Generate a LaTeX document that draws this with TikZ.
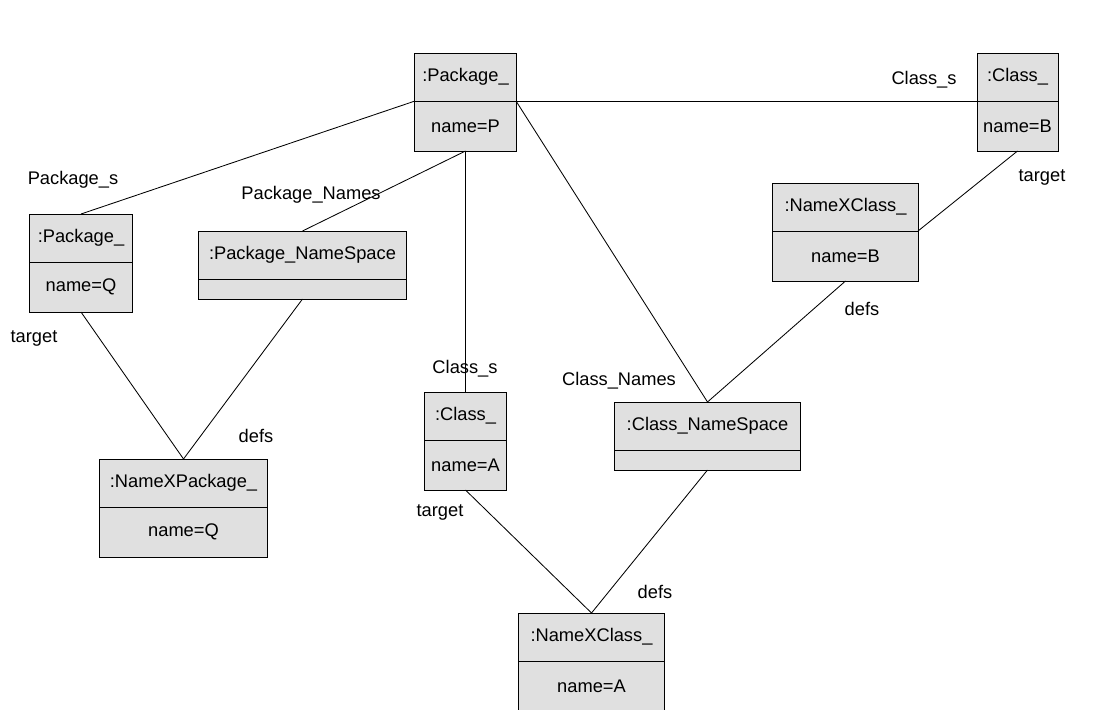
\documentclass[tikz,border=0pt]{standalone}
\usepackage{fontspec}
\setmainfont{Liberation Sans}
\usepackage{xcolor}
\usepackage{tikz}
\usetikzlibrary{positioning}
\definecolor{boxgray}{RGB}{224,224,224}
\newcommand\umlfont{\fontsize{13}{15}\selectfont}

\tikzset{
  objtitle/.style={draw=black, fill=boxgray, line width=0.7pt, minimum height=1.2cm,
                   inner sep=0pt, outer sep=0pt, font=\umlfont},
  objattr/.style={objtitle, minimum height=1.25cm},
  objempty/.style={objtitle, minimum height=0.5cm},
  link/.style={draw=black, line width=0.6pt},
  role/.style={font=\umlfont, inner sep=0pt}
}

\begin{document}
\begin{tikzpicture}[x=0.025cm, y=-0.025cm]
              \useasboundingbox (0,0) rectangle (1099,710);
              \fill[white] (0,0) rectangle (1099,710);
              % package P and class B
              \node[objtitle, minimum width=2.525cm] (pp) at (465.5,77) {:Package\_};
              \node[objattr, minimum width=2.525cm, below=0pt of pp] (pp-a) {name=P};
              \node[objtitle, minimum width=2.025cm] (cb) at (1017.5,77) {:Class\_};
              \node[objattr, minimum width=2.025cm, below=0pt of cb] (cb-a) {name=B};
              % left side
              \node[objtitle, minimum width=2.55cm] (pq) at (81,238) {:Package\_};
              \node[objattr, minimum width=2.55cm, below=0pt of pq] (pq-a) {name=Q};
              \node[objtitle, minimum width=5.175cm] (pns) at (302.5,255) {:Package\_NameSpace};
              \node[objempty, minimum width=5.175cm, below=0pt of pns] (pns-a) {};
              \node[objtitle, minimum width=4.175cm] (nxpq) at (183.5,483) {:NameXPackage\_};
              \node[objattr, minimum width=4.175cm, below=0pt of nxpq] (nxpq-a) {name=Q};
              % right side
              \node[objtitle, minimum width=3.625cm] (nxcb) at (845.5,207) {:NameXClass\_};
              \node[objattr, minimum width=3.625cm, below=0pt of nxcb] (nxcb-a) {name=B};
              \node[objtitle, minimum width=2.05cm] (ca) at (465.5,416) {:Class\_};
              \node[objattr, minimum width=2.05cm, below=0pt of ca] (ca-a) {name=A};
              \node[objtitle, minimum width=4.625cm] (cns) at (707.5,426) {:Class\_NameSpace};
              \node[objempty, minimum width=4.625cm, below=0pt of cns] (cns-a) {};
              \node[objtitle, minimum width=3.625cm] (nxca) at (591.5,637) {:NameXClass\_};
              \node[objattr, minimum width=3.625cm, below=0pt of nxca] (nxca-a) {name=A};

              % links
              \draw[link] (pp.south west) -- (pq.north);
              \draw[link] (pp-a.south) -- (pns.north);
              \draw[link] (pp-a.south) -- (ca.north);
              \draw[link] (pp.south east) -- (cns.north);
              \draw[link] (pp.south east) -- (cb.south west);
              \draw[link] (cb-a.south) -- (nxcb.south east);
              \draw[link] (nxcb-a.south) -- (cns.north);
              \draw[link] (pq-a.south) -- (nxpq.north);
              \draw[link] (pns-a.south) -- (nxpq.north);
              \draw[link] (ca-a.south) -- (nxca.north);
              \draw[link] (cns-a.south) -- (nxca.north);

              % role names
              \node[role] (r-pkgs) at (73,180) {Package\_s};
              \node[role] (r-pkgnames) at (311,195) {Package\_Names};
              \node[role] (r-tgtq) at (34,338) {target};
              \node[role] (r-defsq) at (256,436) {defs};
              \node[role] (r-clsa) at (465,369) {Class\_s};
              \node[role] (r-tgta) at (440,512) {target};
              \node[role] (r-clsnames) at (619,381) {Class\_Names};
              \node[role] (r-defsb) at (862,309) {defs};
              \node[role] (r-defsa) at (655,592) {defs};
              \node[role] (r-clsb) at (924,80) {Class\_s};
              \node[role] (r-tgtb) at (1042,177) {target};
          \end{tikzpicture}
\end{document}
